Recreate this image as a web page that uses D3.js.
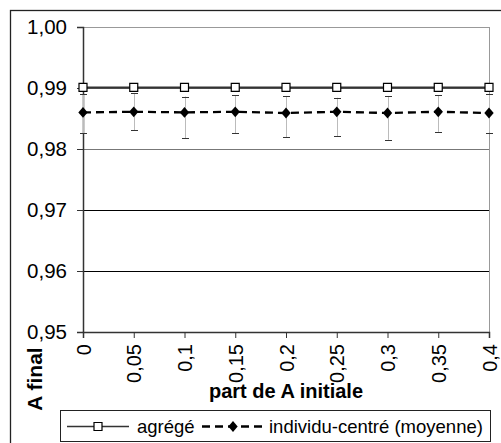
<!DOCTYPE html>
<html><head><meta charset="utf-8">
<script src="https://cdn.jsdelivr.net/npm/d3@7"></script>
<style>body{margin:0;background:#fff;overflow:hidden}svg{display:block}text{font-family:"Liberation Sans",Arial,sans-serif}</style>
</head><body><svg id="c" width="501" height="443"></svg>
<script>
const categories = [0, 0.05, 0.1, 0.15, 0.2, 0.25, 0.3, 0.35, 0.4];
const xLabels = ["0","0,05","0,1","0,15","0,2","0,25","0,3","0,35","0,4"];
const agrege = [0.9901,0.9901,0.9901,0.9901,0.9901,0.9901,0.9901,0.9901,0.9901];
const individu = [0.9860,0.9861,0.9860,0.9861,0.9859,0.9861,0.9859,0.9861,0.9859];
const individuHigh = [0.9890,0.9892,0.9886,0.9888,0.9887,0.9884,0.9887,0.9888,0.9890];
const individuLow = [0.9826,0.9831,0.9818,0.9826,0.9819,0.9821,0.9815,0.9828,0.9827];
const yTicks = [0.95,0.96,0.97,0.98,0.99,1.00];
const seriesNames = ["agrégé","individu-centré (moyenne)"];
const xTitle = "part de A initiale", yTitle = "A final";

const svg = d3.select("#c");
const L=83,R=489,T=27,B=332;
const x = d3.scalePoint().domain(categories).range([L,R]);
const y = d3.scaleLinear().domain([0.95,1.0]).range([B,T]);
const fmt = v => d3.format(".2f")(v).replace(".",",");

// outer frame
svg.append("rect").attr("x",10.5).attr("y",10.5).attr("width",520).attr("height",460)
  .attr("fill","none").attr("stroke","#222").attr("stroke-width",1.3);

// gridlines
const gridCol = {0.96:"#000",0.97:"#000",0.98:"#777",0.99:"#555",1.0:"#999"};
svg.append("g").selectAll("line").data(yTicks.slice(1)).join("line")
  .attr("x1",L).attr("x2",R).attr("y1",d=>Math.round(y(d))+0.5).attr("y2",d=>Math.round(y(d))+0.5)
  .attr("stroke",d=>gridCol[d]).attr("stroke-width",1);
// right border
svg.append("line").attr("x1",R+0.5).attr("x2",R+0.5).attr("y1",T).attr("y2",B).attr("stroke","#999");

// y axis
const yAxis = svg.append("g").attr("transform",`translate(${L},0)`)
  .call(d3.axisLeft(y).tickValues(yTicks).tickFormat(fmt).tickSize(6).tickPadding(10));
yAxis.select(".domain").attr("stroke","#333").attr("stroke-width",1.5);
yAxis.selectAll(".tick line").attr("stroke","#333");
yAxis.selectAll("text").attr("font-size",20.5).attr("fill","#000");

// x axis
const xAxis = svg.append("g").attr("transform",`translate(0,${B})`)
  .call(d3.axisBottom(x).tickFormat((d,i)=>xLabels[i]).tickSize(6).tickPadding(4));
xAxis.select(".domain").attr("stroke","#333").attr("stroke-width",1.5);
xAxis.selectAll(".tick line").attr("stroke","#333");
xAxis.selectAll("text").attr("font-size",20).attr("fill","#000")
  .attr("transform","rotate(-90)").attr("text-anchor","end").attr("dy","0.35em")
  .attr("x",-12).attr("y",0);

// error bars
const eb = svg.append("g");
categories.forEach((c,i)=>{
  const cx = Math.round(x(c))+0.5;
  eb.append("line").attr("x1",cx).attr("x2",cx).attr("y1",y(individuHigh[i])).attr("y2",y(individuLow[i]))
    .attr("stroke","#bbb").attr("stroke-width",1);
  [individuHigh[i],individuLow[i]].forEach(v=>{
    eb.append("line").attr("x1",cx-3.5).attr("x2",cx+3.5).attr("y1",Math.round(y(v))+0.5).attr("y2",Math.round(y(v))+0.5)
      .attr("stroke","#333").attr("stroke-width",1);
  });
});

// lines
const line = d3.line().x((d,i)=>x(categories[i])).y(d=>y(d));
svg.append("path").datum(agrege).attr("d",line).attr("fill","none").attr("stroke","#333").attr("stroke-width",1.8);
svg.append("path").datum(individu).attr("d",line).attr("fill","none").attr("stroke","#000").attr("stroke-width",2.3)
  .attr("stroke-dasharray","8,5");

// markers
const sq = d3.symbol().type(d3.symbolSquare).size(64);
const dm = d3.symbol().type(d3.symbolDiamond2).size(56);
svg.append("g").selectAll("path").data(individu).join("path")
  .attr("transform",(d,i)=>`translate(${x(categories[i])},${y(d)}) scale(1,1.15)`).attr("d",dm).attr("fill","#000");
svg.append("g").selectAll("path").data(agrege).join("path")
  .attr("transform",(d,i)=>`translate(${x(categories[i])},${y(d)})`).attr("d",sq).attr("fill","#fff").attr("stroke","#000").attr("stroke-width",1.2);

// titles
svg.append("text").attr("x",(L+R)/2).attr("y",398).attr("text-anchor","middle")
  .attr("font-size",20).attr("font-weight","bold").text(xTitle);
svg.append("text").attr("transform","translate(42,379) rotate(-90)").attr("text-anchor","middle")
  .attr("font-size",21).attr("font-weight","bold").text(yTitle);

// legend
const lg = svg.append("g");
lg.append("rect").attr("x",60.5).attr("y",410.5).attr("width",430).attr("height",31)
  .attr("fill","#fff").attr("stroke","#222").attr("stroke-width",1);
const ly = 426.5;
lg.append("line").attr("x1",67).attr("x2",129).attr("y1",ly).attr("y2",ly).attr("stroke","#333").attr("stroke-width",1.3);
lg.append("path").attr("transform",`translate(98,${ly})`).attr("d",sq).attr("fill","#fff").attr("stroke","#000").attr("stroke-width",1.2);
lg.append("text").attr("x",137).attr("y",ly).attr("dy","0.35em").attr("font-size",18.5).text(seriesNames[0]);
lg.append("line").attr("x1",202).attr("x2",265).attr("y1",ly).attr("y2",ly).attr("stroke","#000").attr("stroke-width",2.3).attr("stroke-dasharray","8,5");
lg.append("path").attr("transform",`translate(233,${ly}) scale(1,1.15)`).attr("d",dm).attr("fill","#000");
lg.append("text").attr("x",269).attr("y",ly).attr("dy","0.35em").attr("font-size",18.5).text(seriesNames[1]);
</script></body></html>
